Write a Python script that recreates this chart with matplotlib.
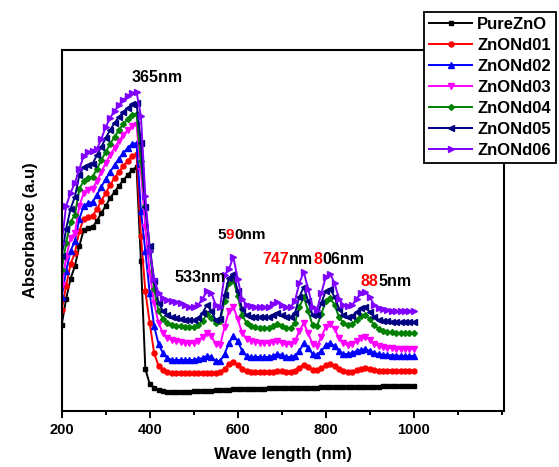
import numpy as np
import matplotlib
matplotlib.use("Agg")
import matplotlib.pyplot as plt
from matplotlib.ticker import MultipleLocator
from matplotlib.font_manager import FontProperties
from matplotlib.transforms import offset_copy

plt.rcParams['font.family'] = ['Liberation Sans', 'DejaVu Sans']
plt.rcParams['font.weight'] = 'bold'

# ---------------------- data (a.u.) ----------------------
wavelength = list(range(200, 1001, 10))

pure_zno = [86, 112, 132, 145, 165, 181, 183, 184, 190, 198,
            205, 213, 219, 225, 231, 236, 241, 244, 150, 42,
            27, 23, 21, 20, 19.5, 19, 19, 19, 19.5, 19.5,
            20, 20, 20, 20.5, 20.5, 21, 21, 21, 21.5, 22,
            22, 22, 22, 22.5, 22.5, 22.5, 22.5, 23, 23, 23,
            23, 23, 23, 23.5, 23.5, 23.5, 23.5, 23.5, 23.5, 24,
            24, 24, 24, 24, 24, 24, 24, 24.5, 24.5, 24.5,
            24.5, 24.5, 24.5, 25, 25, 25, 25, 25, 25, 25, 25]

znond01 = [101, 125, 147, 158, 180, 192, 194, 195, 202, 210,
           218, 226, 233, 239, 245, 250, 255, 257, 175, 120,
           88, 58, 45, 41, 39, 38, 38, 38, 38, 38,
           38, 38, 38, 38.5, 38.5, 38, 39, 42, 47, 49,
           46, 42, 40, 39, 39, 39, 39, 39, 39, 40,
           40, 39.5, 39.5, 40, 43, 46, 44, 41, 41, 43,
           46, 47, 45, 42, 40, 39, 39.5, 41, 42, 43,
           42, 41, 40.5, 40, 40, 40, 40, 40, 40, 40, 40]

znond02 = [114, 140, 160, 170, 192, 205, 208, 209, 216, 224,
           232, 239, 246, 252, 258, 263, 267, 268, 200, 160,
           118, 85, 67, 58, 53, 51, 51, 51, 51, 51,
           51, 52, 53, 55, 54, 50, 50, 57, 68, 75,
           70, 60, 55, 54, 54, 54, 54, 54, 55, 57,
           56, 54, 54, 55, 60, 68, 63, 57, 56, 60,
           66, 68, 65, 60, 57, 57, 58, 60, 61, 62,
           60, 58, 57, 56, 56, 55.5, 55.5, 55, 55, 55, 55]

znond03 = [126, 153, 173, 178, 205, 218, 221, 222, 230, 239,
           248, 256, 263, 270, 276, 281, 285, 286, 240, 184,
           138, 108, 88, 78, 73, 71, 70, 69, 68, 68,
           68, 70, 74, 78, 75, 67, 66, 84, 100, 104,
           92, 78, 72, 70, 69, 68, 68, 68, 69, 70,
           68, 67, 67, 70, 80, 88, 78, 67, 65, 74,
           84, 87, 82, 73, 68, 66, 67, 70, 73, 74,
           71, 67, 65, 64, 63, 63, 62.5, 62, 62, 62, 62]

znond04 = [141, 168, 189, 196, 222, 230, 233, 234, 242, 251,
           259, 267, 274, 281, 287, 292, 296, 297, 250, 205,
           160, 122, 100, 92, 88, 86, 85, 85, 84, 84,
           84, 86, 90, 97, 93, 88, 90, 110, 128, 131,
           115, 96, 88, 85, 84, 83, 83, 83, 85, 87,
           85, 83, 83, 88, 104, 114, 100, 86, 85, 97,
           110, 113, 106, 94, 88, 86, 87, 91, 95, 96,
           92, 86, 82, 80, 79, 79, 78.5, 78, 78, 78, 78]

znond05 = [155, 182, 202, 214, 236, 244, 246, 247, 256, 264,
           273, 281, 288, 294, 299, 303, 307, 308, 268, 204,
           165, 130, 108, 100, 96, 94, 93, 92, 91, 91,
           91, 93, 98, 106, 100, 91, 92, 116, 133, 137,
           120, 102, 96, 94, 94, 94, 94, 94, 96, 98,
           96, 94, 94, 98, 114, 124, 110, 96, 96, 108,
           120, 122, 114, 102, 96, 94, 95, 99, 103, 104,
           99, 94, 91, 90, 90, 89.5, 89, 89, 89, 89, 89]

znond06 = [168, 205, 218, 228, 242, 255, 259, 260, 262, 272,
           284, 293, 300, 306, 311, 315, 318, 319, 295, 215,
           160, 132, 118, 113, 111, 110, 109, 108, 106, 104,
           104, 106, 112, 120, 118, 106, 104, 136, 142, 154,
           132, 112, 106, 105, 104, 104, 104, 104, 107, 109,
           106, 104, 104, 110, 128, 139, 122, 104, 101, 118,
           134, 137, 128, 112, 106, 105, 106, 112, 118, 119,
           114, 106, 103, 102, 101, 100.5, 100, 100, 100, 100, 100]

labels = ['PureZnO', 'ZnONd01', 'ZnONd02', 'ZnONd03', 'ZnONd04', 'ZnONd05', 'ZnONd06']
series = [pure_zno, znond01, znond02, znond03, znond04, znond05, znond06]
colors = ['black', '#ff0000', '#0000ff', '#ff00ff', '#008000', '#000080', '#8000ff']
markers = ['s', 'o', '^', 'v', 'D', '<', '>']
msizes = [3.2, 3.6, 3.8, 3.8, 3.0, 3.8, 3.8]

# ---------------------- figure ----------------------
fig = plt.figure(figsize=(5.59, 4.67), dpi=100)
ax = fig.add_axes([61.7 / 559, 56 / 467, (504 - 61.7) / 559, 361 / 467])

for y, lab, c, m, ms in zip(series, labels, colors, markers, msizes):
    ax.plot(wavelength, y, color=c, marker=m, markersize=ms, lw=1.4, label=lab)

ax.set_xlim(200, 1205)
ax.set_ylim(0, 361)
ax.set_xticks([200, 400, 600, 800, 1000])
ax.xaxis.set_minor_locator(MultipleLocator(100))
ax.set_yticks([])
ax.tick_params(axis='x', which='major', length=5, width=1.4, labelsize=10.5, pad=4)
ax.tick_params(axis='x', which='minor', length=3, width=1.4)
for lbl in ax.get_xticklabels():
    lbl.set_fontweight('bold')
for s in ax.spines.values():
    s.set_linewidth(1.5)

ax.set_xlabel('Wave length (nm)', fontsize=12, fontweight='bold', labelpad=7)
ax.set_ylabel('Absorbance (a.u)', fontsize=12, fontweight='bold', labelpad=17)

renderer = fig.canvas.get_renderer()


def colored_text(x, y, parts, size=11.5):
    # parts: list of (string, colour); each piece is shifted by the width of what came before
    fp = FontProperties(family=['Liberation Sans'], weight='bold', size=size)
    prefix = ''
    for txt, col in parts:
        w = 0
        if prefix:
            w, _, _ = renderer.get_text_width_height_descent(prefix, fp, ismath=False)
        tr = offset_copy(ax.transData, fig=fig, x=w, y=0, units='dots')
        ax.text(x, y, txt, color=col, fontproperties=fp, ha='left', va='center',
                transform=tr)
        prefix += txt


colored_text(359, 334, [('365nm', 'black')])
colored_text(457, 133, [('533nm', 'black')])
colored_text(554, 176, [('5', 'black'), ('9', '#ff0000'), ('0nm', 'black')], size=11)
colored_text(656, 151, [('747', '#ff0000'), ('nm', 'black'), ('8', '#ff0000'), ('06nm', 'black')])
colored_text(879, 129, [('88', '#ff0000'), ('5nm', 'black')])

leg = fig.legend(loc='upper right', bbox_to_anchor=(556 / 559, 1 - 12 / 467),
                 fontsize=12, frameon=True, fancybox=False, framealpha=1,
                 edgecolor='black', numpoints=1, handlelength=2.6,
                 handletextpad=0.3, labelspacing=0.36, borderpad=0.3,
                 borderaxespad=0)
leg.get_frame().set_linewidth(1.3)
for t in leg.get_texts():
    t.set_fontweight('bold')

plt.savefig('out.png', dpi=100)
